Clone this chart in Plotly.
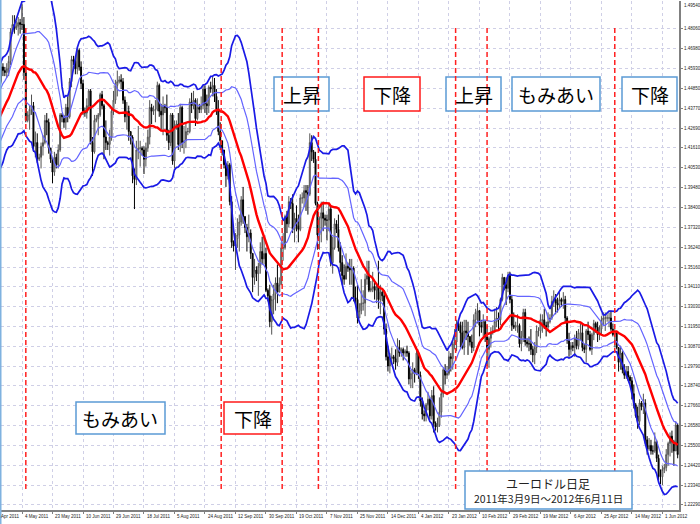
import numpy as np
import plotly.graph_objects as go

# ---------------- data (EUR/USD daily, prices x 10000), first bar = 9 Mar 2011 ----------------
FIRST_BAR = -48   # bar index of first candle; bar 0 = 4 May 2011

closes = [
    13910, 13800, 13900,
    13925, 13985, 13970, 13930, 14010, 14180,
    14175, 14180, 14220, 14090, 14210, 14090,
    14080, 14090, 14120, 14090, 14160, 14230,
    14225, 14220, 14210, 14300, 14290, 14480,
    14470, 14460, 14480, 14460, 14470, 14430,
    14420, 14240, 14380, 14520, 14600, 14580,
    14570, 14590, 14630, 14790, 14830, 14810,
    14820, 14840, 14830, 14830, 14570, 14310,
    14340, 14370, 14390, 14170, 14190, 14100,
    14110, 14170, 14190, 14310, 14300, 14160,
    14100, 14030, 14110, 14070, 14150, 14340,
    14330, 14300, 14380, 14330, 14520, 14640,
    14630, 14590, 14690, 14600, 14510, 14360,
    14350, 14390, 14470, 14190, 14140, 14310,
    14320, 14340, 14450, 14390, 14220, 14190,
    14180, 14220, 14360, 14420, 14500, 14520,
    14530, 14520, 14420, 14330, 14360, 14250,
    14220, 14010, 13990, 14150, 14160, 14160,
    14150, 14100, 14160, 14220, 14380, 14360,
    14370, 14370, 14500, 14360, 14340, 14390,
    14380, 14230, 14190, 14340, 14090, 14280,
    14290, 14180, 14380, 14190, 14200, 14250,
    14250, 14410, 14390, 14420, 14320, 14380,
    14370, 14390, 14480, 14400, 14390, 14490,
    14480, 14500, 14440, 14370, 14250, 14200,
    14150, 14070, 14010, 14070, 13870, 13650,
    13630, 13670, 13690, 13760, 13880, 13790,
    13730, 13680, 13700, 13590, 13460, 13500,
    13480, 13520, 13600, 13560, 13590, 13390,
    13360, 13220, 13340, 13370, 13430, 13380,
    13420, 13620, 13620, 13790, 13750, 13870,
    13860, 13720, 13780, 13740, 13720, 13890,
    13890, 13930, 13920, 13910, 14190, 14140,
    14100, 13860, 13690, 13780, 13810, 13780,
    13770, 13770, 13830, 13540, 13620, 13750,
    13720, 13620, 13540, 13470, 13450, 13520,
    13510, 13500, 13510, 13350, 13340, 13240,
    13280, 13320, 13320, 13450, 13470, 13390,
    13400, 13410, 13390, 13410, 13340, 13380,
    13360, 13180, 13030, 12980, 13020, 13030,
    13020, 13000, 13080, 13050, 13070, 13050,
    13060, 13050, 12910, 12940, 12960,
    12940, 13050, 12930, 12790, 12720,
    12710, 12770, 12800, 12710, 12820, 12670,
    12650, 12660, 12730, 12830, 12960, 12930,
    12940, 13030, 13020, 13100, 13110, 13210,
    13200, 13160, 13080, 13170, 13160, 13140,
    13110, 13080, 13230, 13270, 13280, 13200,
    13190, 13220, 13140, 13070, 13130, 13160,
    13170, 13220, 13240, 13230, 13340, 13460,
    13420, 13400, 13470, 13340, 13200, 13190,
    13200, 13200, 13100, 13140, 13270, 13110,
    13100, 13100, 13070, 13040, 13080, 13170,
    13170, 13230, 13230, 13200, 13190, 13220,
    13240, 13330, 13340, 13320, 13310, 13340,
    13330, 13340, 13240, 13120, 13070, 13090,
    13080, 13130, 13090, 13160, 13160, 13080,
    13070, 13170, 13150, 13070, 13150, 13210,
    13190, 13150, 13180, 13230, 13240, 13240,
    13240, 13240, 13180, 13150, 13160, 13080,
    13000, 13050, 12960, 12930, 12950, 12920,
    12900, 12830, 12770, 12710, 12680, 12780,
    12760, 12780, 12580, 12530, 12550, 12520,
    12520, 12570, 12480, 12380, 12380, 12420,
    12430, 12500, 12560, 12600, 12570, 12520,
    12660, 12500,
]

highs = [
    13985, 13920, 13935,
    13940, 14000, 14020, 14000, 14050, 14190,
    14195, 14250, 14250, 14240, 14230, 14210,
    14100, 14120, 14140, 14170, 14200, 14250,
    14240, 14260, 14260, 14330, 14340, 14490,
    14490, 14520, 14520, 14500, 14490, 14500,
    14440, 14420, 14400, 14550, 14650, 14620,
    14600, 14620, 14660, 14810, 14880, 14880,
    14850, 14870, 14860, 14940, 14870, 14610,
    14360, 14390, 14450, 14410, 14250, 14240,
    14130, 14190, 14230, 14340, 14350, 14320,
    14140, 14110, 14140, 14130, 14180, 14350,
    14350, 14340, 14400, 14440, 14540, 14660,
    14660, 14660, 14700, 14700, 14630, 14530,
    14380, 14430, 14480, 14480, 14220, 14340,
    14340, 14350, 14460, 14470, 14400, 14310,
    14200, 14260, 14380, 14470, 14530, 14580,
    14550, 14560, 14540, 14440, 14410, 14390,
    14250, 14230, 14050, 14200, 14280, 14200,
    14170, 14170, 14190, 14260, 14420, 14400,
    14390, 14420, 14520, 14510, 14400, 14440,
    14400, 14450, 14260, 14350, 14350, 14310,
    14310, 14350, 14400, 14390, 14280, 14300,
    14270, 14430, 14460, 14470, 14430, 14430,
    14400, 14440, 14500, 14500, 14450, 14500,
    14520, 14550, 14540, 14480, 14420, 14300,
    14200, 14150, 14080, 14090, 14080, 13900,
    13660, 13700, 13780, 13800, 13900, 13950,
    13790, 13750, 13800, 13720, 13580, 13560,
    13520, 13540, 13650, 13680, 13680, 13620,
    13400, 13420, 13360, 13420, 13460, 13530,
    13460, 13650, 13700, 13800, 13820, 13900,
    13890, 13910, 13810, 13850, 13800, 13910,
    13920, 13960, 13960, 13960, 14240, 14230,
    14150, 14140, 13870, 13790, 13870, 13870,
    13800, 13800, 13860, 13850, 13680, 13780,
    13770, 13800, 13650, 13580, 13530, 13590,
    13540, 13560, 13560, 13520, 13410, 13420,
    13320, 13450, 13390, 13480, 13550, 13550,
    13440, 13490, 13440, 13430, 13550, 13420,
    13390, 13390, 13210, 13090, 13050, 13080,
    13040, 13070, 13130, 13120, 13080, 13080,
    13070, 13090, 13060, 12960, 13000,
    12970, 13080, 13060, 12950, 12810,
    12740, 12780, 12840, 12810, 12850, 12870,
    12680, 12700, 12810, 12840, 12970, 12990,
    12980, 13060, 13050, 13120, 13180, 13230,
    13230, 13220, 13220, 13230, 13230, 13220,
    13140, 13150, 13260, 13290, 13320, 13280,
    13230, 13260, 13230, 13200, 13140, 13190,
    13200, 13290, 13300, 13270, 13350, 13480,
    13450, 13460, 13490, 13490, 13360, 13270,
    13220, 13260, 13210, 13170, 13290, 13290,
    13130, 13140, 13180, 13090, 13110, 13200,
    13190, 13260, 13260, 13290, 13220, 13270,
    13260, 13360, 13390, 13370, 13350, 13380,
    13350, 13380, 13360, 13250, 13160, 13110,
    13110, 13150, 13170, 13180, 13210, 13210,
    13100, 13180, 13220, 13170, 13160, 13230,
    13220, 13220, 13200, 13250, 13270, 13270,
    13260, 13270, 13280, 13210, 13180, 13170,
    13050, 13090, 13060, 12990, 12980, 12980,
    12930, 12920, 12880, 12780, 12760, 12800,
    12790, 12830, 12800, 12600, 12590, 12580,
    12550, 12620, 12580, 12500, 12420, 12440,
    12450, 12530, 12570, 12620, 12630, 12580,
    12680, 12670,
]

lows = [
    13860, 13775, 13750,
    13890, 13900, 13860, 13890, 13890, 14000,
    14150, 14130, 14140, 14070, 14070, 14060,
    14050, 14010, 14040, 14060, 14080, 14110,
    14200, 14170, 14150, 14190, 14220, 14270,
    14450, 14420, 14400, 14420, 14390, 14380,
    14390, 14190, 14210, 14370, 14510, 14550,
    14550, 14540, 14550, 14610, 14780, 14780,
    14800, 14770, 14780, 14800, 14530, 14300,
    14300, 14260, 14340, 14140, 14110, 14080,
    14090, 14050, 14120, 14180, 14230, 14130,
    14080, 13970, 14010, 14050, 14050, 14140,
    14300, 14270, 14260, 14300, 14320, 14490,
    14610, 14560, 14560, 14580, 14480, 14340,
    14330, 14320, 14370, 14180, 14010, 14130,
    14300, 14230, 14330, 14370, 14100, 14150,
    14150, 14120, 14200, 14340, 14400, 14440,
    14510, 14480, 14400, 14300, 14260, 14200,
    14180, 13970, 13830, 13960, 14100, 14060,
    14120, 14020, 14060, 14140, 14180, 14290,
    14340, 14300, 14360, 14330, 14260, 14230,
    14350, 14200, 14150, 14170, 14070, 14050,
    14260, 14150, 14140, 14160, 14130, 14160,
    14230, 14240, 14350, 14370, 14280, 14310,
    14350, 14350, 14370, 14350, 14340, 14350,
    14460, 14440, 14410, 14340, 14230, 14150,
    14120, 14050, 13950, 13990, 13850, 13620,
    13600, 13500, 13620, 13600, 13740, 13750,
    13700, 13600, 13650, 13560, 13380, 13420,
    13440, 13360, 13480, 13530, 13530, 13380,
    13330, 13190, 13150, 13260, 13280, 13320,
    13390, 13420, 13550, 13610, 13700, 13730,
    13830, 13700, 13650, 13710, 13650, 13710,
    13860, 13840, 13820, 13800, 13900, 14090,
    14080, 13850, 13610, 13610, 13650, 13710,
    13740, 13660, 13710, 13520, 13480, 13610,
    13700, 13600, 13490, 13420, 13420, 13460,
    13490, 13420, 13420, 13330, 13310, 13210,
    13240, 13260, 13280, 13250, 13420, 13380,
    13380, 13380, 13340, 13320, 13290, 13260,
    13330, 13150, 13010, 12950, 12940, 12990,
    12990, 12960, 12980, 13030, 13030, 13010,
    13030, 13030, 12880, 12860, 12860,
    12890, 12930, 12910, 12760, 12690,
    12680, 12680, 12740, 12690, 12690, 12620,
    12630, 12620, 12650, 12700, 12810, 12880,
    12910, 12930, 12950, 12960, 13070, 13060,
    13170, 13080, 13070, 13040, 13120, 13040,
    13090, 13050, 13060, 13190, 13210, 13140,
    13160, 13140, 13110, 12980, 12970, 13080,
    13150, 13160, 13190, 13180, 13200, 13330,
    13390, 13310, 13380, 13320, 13170, 13180,
    13170, 13160, 13080, 13060, 13110, 13090,
    13080, 13060, 13040, 13000, 12990, 13050,
    13140, 13130, 13160, 13180, 13140, 13170,
    13210, 13230, 13300, 13260, 13270, 13290,
    13300, 13290, 13210, 13100, 13030, 13040,
    13060, 13030, 13070, 13070, 13120, 13060,
    13050, 13000, 13120, 13060, 13040, 13120,
    13160, 13110, 13120, 13150, 13200, 13170,
    13220, 13190, 13170, 13140, 13080, 13070,
    12950, 12960, 12940, 12910, 12910, 12900,
    12880, 12800, 12750, 12700, 12640, 12660,
    12740, 12720, 12560, 12500, 12520, 12500,
    12500, 12510, 12460, 12360, 12340, 12335,
    12400, 12410, 12440, 12490, 12510, 12440,
    12600, 12480,
]

# x-axis date labels and the bar index where each sits
xlabel_text = ['15 Apr 2011', '4 May 2011', '23 May 2011', '10 Jun 2011', '29 Jun 2011',
               '18 Jul 2011', '5 Aug 2011', '24 Aug 2011', '12 Sep 2011', '30 Sep 2011',
               '19 Oct 2011', '7 Nov 2011', '25 Nov 2011', '14 Dec 2011', '4 Jan 2012',
               '23 Jan 2012', '10 Feb 2012', '29 Feb 2012', '19 Mar 2012', '6 Apr 2012',
               '25 Apr 2012', '14 May 2012', '1 Jun 2012']
xlabel_bar = [-16, 0, 16, 32, 48, 64, 80, 96, 112, 128, 144, 160, 176, 192, 208,
              224, 240, 256, 272, 288, 304, 320, 336]

# price-axis labels
ylabel_vals = [1.22290, 1.23340, 1.24420, 1.25500, 1.26580, 1.27660, 1.28740, 1.29790,
               1.30870, 1.31950, 1.33030, 1.34110, 1.35160, 1.36240, 1.37320, 1.38400,
               1.39480, 1.40530, 1.41610, 1.42690, 1.43770, 1.44850, 1.45930, 1.46980,
               1.48060]
ylabel_top = 1.49540

# bars marked with red dashed vertical lines
marker_bars = [2, 104.5, 136.5, 155.5, 227.5, 244, 311]

top_labels = ['上昇', '下降', '上昇', 'もみあい', '下降']
bottom_labels = ['もみあい', '下降']
info_title = 'ユーロドル日足'
info_period = '2011年3月9日～2012年6月11日'

BB_PERIOD = 21

# ---------------- build series ----------------
n = len(closes)
x = np.arange(FIRST_BAR, FIRST_BAR + n)
c = np.array(closes) / 1e4
o = np.concatenate([[c[0]], c[:-1]])
h = np.maximum.reduce([np.array(highs) / 1e4, o, c])
l = np.minimum.reduce([np.array(lows) / 1e4, o, c])

ma = np.full(n, np.nan)
sd = np.full(n, np.nan)
for i in range(BB_PERIOD - 1, n):
    w = c[i - BB_PERIOD + 1:i + 1]
    ma[i] = w.mean()
    sd[i] = w.std()

W, H = 700, 524
ML, MR, MT, MB = 1, 21, 1, 14
PW, PH = W - ML - MR, H - MT - MB
XR = [-11.02, 344.7]
YR = [1.2200, 1.4957]


def fx(px):
    return (px - ML) / PW


def fy(py):
    return (MT + PH - py) / PH


fig = go.Figure()
fig.add_trace(go.Candlestick(
    x=x, open=o, high=h, low=l, close=c,
    increasing=dict(line=dict(color='#505050', width=1), fillcolor='#ffffff'),
    decreasing=dict(line=dict(color='#000000', width=1), fillcolor='#000000'),
    whiskerwidth=0, showlegend=False, hoverinfo='skip'))

s = slice(BB_PERIOD - 1, n)
bands = [
    (ma + 2 * sd, '#1a1ae6', 1.7),
    (ma - 2 * sd, '#1a1ae6', 1.7),
    (ma + sd, '#6464ff', 1.2),
    (ma - sd, '#6464ff', 1.2),
    (ma, '#ff0000', 2.4),
]
for arr, col, wdt in bands:
    fig.add_trace(go.Scatter(x=x[s], y=arr[s], mode='lines', line=dict(color=col, width=wdt),
                             showlegend=False, hoverinfo='skip'))

shapes = []
annotations = []
jp = 'Noto Sans CJK JP'

# top label boxes (drawn under the dashed lines)
top_boxes = [(274, 329, '#5b9bd5'), (364, 420, '#ff1a1a'), (446, 501, '#5b9bd5'),
             (512, 600, '#5b9bd5'), (622, 677, '#5b9bd5')]
for (x0, x1, col), txt in zip(top_boxes, top_labels):
    shapes.append(dict(type='rect', xref='paper', yref='paper', x0=fx(x0), x1=fx(x1),
                       y0=fy(111), y1=fy(77), line=dict(color=col, width=1.5),
                       fillcolor='white', layer='above'))
    annotations.append(dict(xref='paper', yref='paper', x=fx((x0 + x1) / 2), y=fy(94),
                            text=txt, showarrow=False, font=dict(family=jp, size=19, color='black'),
                            xanchor='center', yanchor='middle'))

bot_boxes = [(76, 165, '#5b9bd5'), (224, 281, '#ff1a1a')]
for (x0, x1, col), txt in zip(bot_boxes, bottom_labels):
    shapes.append(dict(type='rect', xref='paper', yref='paper', x0=fx(x0), x1=fx(x1),
                       y0=fy(434), y1=fy(402), line=dict(color=col, width=1.5),
                       fillcolor='white', layer='above'))
    annotations.append(dict(xref='paper', yref='paper', x=fx((x0 + x1) / 2), y=fy(418),
                            text=txt, showarrow=False, font=dict(family=jp, size=19, color='black'),
                            xanchor='center', yanchor='middle'))

# red dashed vertical markers
for b in marker_bars:
    shapes.append(dict(type='line', xref='x', yref='paper', x0=b, x1=b, y0=fy(489), y1=fy(28),
                       line=dict(color='#ff2020', width=1.5, dash='5px,3px'), layer='above'))

# info box (above dashed lines)
shapes.append(dict(type='rect', xref='paper', yref='paper', x0=fx(465), x1=fx(632),
                   y0=fy(509), y1=fy(471), line=dict(color='#5b9bd5', width=1.5),
                   fillcolor='white', layer='above'))
annotations.append(dict(xref='paper', yref='paper', x=fx(548), y=fy(483), text=info_title,
                        showarrow=False, font=dict(family=jp, size=12, color='#222222'),
                        xanchor='center', yanchor='middle'))
annotations.append(dict(xref='paper', yref='paper', x=fx(548), y=fy(498), text=info_period,
                        showarrow=False, font=dict(family=jp, size=10.5, color='#222222'),
                        xanchor='center', yanchor='middle'))

# left window border
shapes.append(dict(type='line', xref='paper', yref='paper', x0=fx(0.5), x1=fx(0.5), y0=fy(524),
                   y1=fy(0), line=dict(color='#7fb2e0', width=2)))

lab_font = dict(family='Liberation Sans', size=4.5, color='#222222')
# x-axis date labels (left aligned at their bar, MT4 style)
for t, b in zip(xlabel_text, xlabel_bar):
    px = ML + (b - XR[0]) / (XR[1] - XR[0]) * PW
    annotations.append(dict(xref='paper', yref='paper', x=fx(px + 1), y=fy(516), text=t,
                            showarrow=False, xanchor='left', yanchor='middle', font=lab_font))
# price labels on the right
for v in ylabel_vals:
    annotations.append(dict(xref='paper', yref='y', x=fx(682), y=v, text=f'{v:.5f}',
                            showarrow=False, xanchor='left', yanchor='middle', font=lab_font))
annotations.append(dict(xref='paper', yref='paper', x=fx(682), y=fy(6),
                        text=f'{ylabel_top:.5f}', showarrow=False, xanchor='left', yanchor='middle',
                        font=lab_font))

fig.update_layout(
    width=W, height=H, margin=dict(l=ML, r=MR, t=MT, b=MB),
    paper_bgcolor='white', plot_bgcolor='white', showlegend=False,
    shapes=shapes, annotations=annotations,
    xaxis=dict(range=XR, tickvals=xlabel_bar, showticklabels=False, ticks='outside', ticklen=2,
               tickcolor='#808080', showgrid=True, gridcolor='#cfcfe6', griddash='dot', gridwidth=1,
               zeroline=False, showline=True, linecolor='#808080', linewidth=1.5,
               rangeslider=dict(visible=False), fixedrange=True),
    yaxis=dict(range=YR, side='right', tickvals=ylabel_vals, showticklabels=False,
               ticks='outside', ticklen=2, tickcolor='#808080',
               showgrid=True, gridcolor='#cfcfe6', griddash='dot', gridwidth=1, zeroline=False,
               showline=True, linecolor='#808080', linewidth=1.5, fixedrange=True),
)

fig.write_html('out.html', config={'displayModeBar': False},
               post_script="document.body.style.margin='0';document.body.style.overflow='hidden';")
